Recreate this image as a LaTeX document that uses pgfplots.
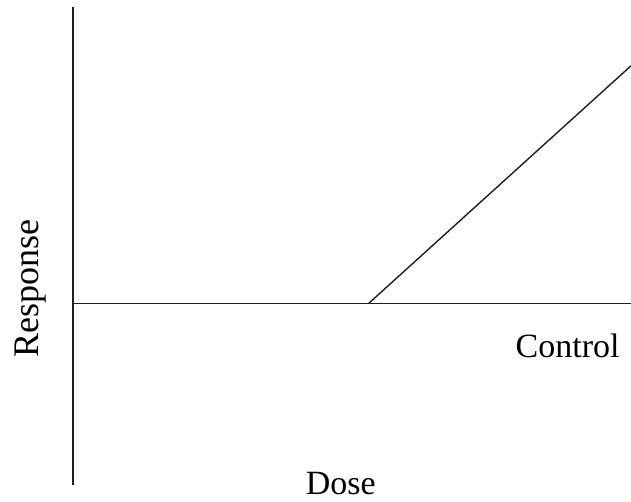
\documentclass[border=0pt]{standalone}
\usepackage{fontspec}
\setmainfont{Liberation Serif}
\usepackage{pgfplots}
\pgfplotsset{compat=1.18}
\definecolor{ink}{HTML}{1E1E1E}

\begin{document}
\begin{tikzpicture}
\useasboundingbox (0,0) rectangle (631bp,502bp);
\begin{axis}[
  at={(73bp,17bp)}, anchor=south west,
  scale only axis, width=558bp, height=478bp,
  xmin=0, xmax=10, ymin=-3.8, ymax=6.2,
  axis x line=none, axis y line=left,
  y axis line style={-, draw=ink, line width=1.4bp},
  ticks=none, clip=false,
]
% control response (flat) and dose-dependent response above threshold
\addplot[ink, line width=1.4bp] coordinates {(0,0) (10,0)};
\addplot[ink, line width=1.4bp] coordinates {(5.30,0) (10,4.97)};
\node[anchor=base west, font=\fontsize{34bp}{40bp}\selectfont] at (axis cs:7.87,-1.143) {Control};
\node[anchor=base, font=\fontsize{34bp}{40bp}\selectfont] at (axis cs:4.80,-3.99) {Dose};
\node[anchor=base, rotate=90, font=\fontsize{36bp}{42bp}\selectfont] at (axis cs:-0.627,0.32) {Response};
\end{axis}
\end{tikzpicture}
\end{document}
